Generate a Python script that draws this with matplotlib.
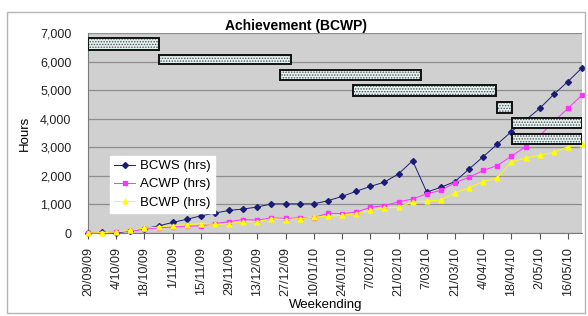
import matplotlib.pyplot as plt
from matplotlib.patches import Rectangle
from matplotlib.ticker import StrMethodFormatter

plt.rcParams["font.family"] = ["Liberation Sans", "DejaVu Sans"]
plt.rcParams["hatch.linewidth"] = 0.7

weeks = [
    "20/09/09", "27/09/09", "4/10/09", "11/10/09", "18/10/09", "25/10/09",
    "1/11/09", "8/11/09", "15/11/09", "22/11/09", "29/11/09", "6/12/09",
    "13/12/09", "20/12/09", "27/12/09", "3/01/10", "10/01/10", "17/01/10",
    "24/01/10", "31/01/10", "7/02/10", "14/02/10", "21/02/10", "28/02/10",
    "7/03/10", "14/03/10", "21/03/10", "28/03/10", "4/04/10", "11/04/10",
    "18/04/10", "25/04/10", "2/05/10", "9/05/10", "16/05/10", "23/05/10",
]

bcws = [0, 20, 0, 80, 150, 250, 370, 480, 600, 700, 790, 840,
        910, 1020, 1020, 1020, 1020, 1130, 1280, 1460, 1630, 1780, 2070, 2530,
        1430, 1600, 1800, 2240, 2670, 3110, 3550, 3950, 4360, 4850, 5300, 5780]
acwp = [0, 15, 30, 70, 130, 180, 210, 240, 250, 330, 400, 470,
        450, 530, 510, 530, 540, 690, 680, 730, 900, 960, 1090, 1190,
        1370, 1490, 1760, 1950, 2190, 2360, 2690, 3020, 3400, 3900, 4360, 4830]
bcwp = [0, 15, 35, 90, 170, 210, 260, 290, 330, 300, 330, 390,
        390, 500, 470, 500, 560, 580, 620, 680, 790, 880, 905, 1080,
        1115, 1160, 1400, 1580, 1800, 1930, 2490, 2625, 2720, 2820, 3020, 3110]

# schedule boxes drawn over the chart: start week, end week, low / high hours
box_start = [0, 5.05, 13.6, 18.8, 29.0, 30.05, 30.05]
box_end = [5.05, 14.4, 23.6, 28.9, 30.05, 35.0, 35.0]
box_low = [6420, 5900, 5350, 4790, 4210, 3690, 3130]
box_high = [6820, 6240, 5700, 5180, 4590, 4020, 3480]

W, H = 588, 316
fig = plt.figure(figsize=(W / 100, H / 100), dpi=100)
fig.patch.set_facecolor("white")

# chart area border
fig.patches.append(Rectangle((7 / W, 3 / H), 578 / W, 301 / H, transform=fig.transFigure,
                             fill=False, edgecolor="#b5b5b5", linewidth=1))

ax = fig.add_axes([88 / W, 1 - 233 / H, (582 - 88) / W, 200 / H])
ax.set_facecolor("#d0d0d0")

x = list(range(len(weeks)))
ax.plot(x, bcws, color="#1c1c78", linewidth=0.7, marker="D", markersize=3,
        label="BCWS (hrs)", zorder=3, clip_on=False)
ax.plot(x, acwp, color="#ff33ff", linewidth=0.7, marker="s", markersize=3,
        label="ACWP (hrs)", zorder=3, clip_on=False)
ax.plot(x, bcwp, color="#ffff00", linewidth=0.7, marker="^", markersize=3.5,
        label="BCWP (hrs)", zorder=3, clip_on=False)

for s, e, lo, hi in zip(box_start, box_end, box_low, box_high):
    ax.add_patch(Rectangle((s, lo), e - s, hi - lo, facecolor="#e2f2f0", edgecolor="#505050",
                           hatch="......", linewidth=0, zorder=4))
    ax.add_patch(Rectangle((s, lo), e - s, hi - lo, fill=False, edgecolor="#111111",
                           linewidth=1.4, zorder=5))

ax.set_xlim(0, 35)
ax.set_ylim(0, 7000)
ax.set_yticks(range(0, 7001, 1000))
ax.yaxis.set_major_formatter(StrMethodFormatter("{x:,.0f}"))
ax.set_xticks(x[::2])
ax.set_xticklabels(weeks[::2], rotation=90, fontsize=9, color="#222222")
ax.tick_params(axis="y", length=0, pad=12, labelsize=9, labelcolor="#222222")
ax.tick_params(axis="x", length=4, pad=6, color="#555555")

ax.grid(axis="y", color="#8e8e8e", linewidth=0.9, zorder=1)
ax.set_axisbelow(True)
for side in ["top", "right"]:
    ax.spines[side].set_visible(False)
ax.spines["left"].set_color("#7a7a7a")
ax.spines["bottom"].set_color("#7a7a7a")

fig.text(296 / W, 1 - 26 / H, "Achievement (BCWP)", ha="center", va="center",
         fontsize=10, fontweight="bold")
fig.text(25 / W, 1 - 133 / H, "Hours", rotation=90, ha="center", va="center", fontsize=9.5)
fig.text(326 / W, 1 - 305 / H, "Weekending", ha="center", va="center", fontsize=9.5)

leg = ax.legend(loc="upper left", bbox_to_anchor=((110 - 88) / 494, (233 - 156) / 200),
                fontsize=9.5, frameon=True, fancybox=False, borderpad=0.3,
                labelspacing=0.45, handlelength=1.6, handletextpad=0.4,
                borderaxespad=0)
leg.get_frame().set_facecolor("white")
leg.get_frame().set_edgecolor("white")
leg.get_frame().set_alpha(1)
leg.set_zorder(6)

fig.savefig("out.png", dpi=100)
